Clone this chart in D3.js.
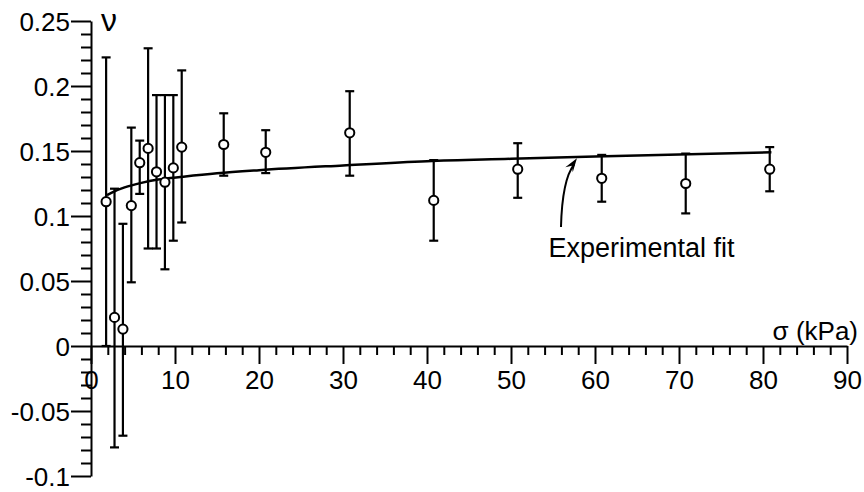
<!DOCTYPE html>
<html>
<head>
<meta charset="utf-8">
<script src="https://cdn.jsdelivr.net/npm/d3@7"></script>
<style>
  html, body { margin: 0; padding: 0; background: #fff; }
  svg { display: block; }
  text { font-family: "Liberation Sans", Arial, sans-serif; fill: #000; }
</style>
</head>
<body>
<svg id="chart" width="864" height="492"></svg>
<script>
// ---- data ----
const sigma = [1.8, 2.8, 3.8, 4.8, 5.8, 6.8, 7.8, 8.8, 9.8, 10.8, 15.8, 20.8, 30.8, 40.8, 50.8, 60.8, 70.8, 80.8];
const nu    = [0.111, 0.022, 0.013, 0.108, 0.141, 0.152, 0.134, 0.126, 0.137, 0.153, 0.155, 0.149, 0.164, 0.112, 0.136, 0.129, 0.125, 0.136];
const nuHigh = [0.222, 0.121, 0.094, 0.168, 0.158, 0.229, 0.193, 0.193, 0.193, 0.212, 0.179, 0.166, 0.196, 0.143, 0.156, 0.147, 0.148, 0.153];
const nuLow  = [0.000, -0.078, -0.069, 0.049, 0.117, 0.075, 0.075, 0.059, 0.081, 0.095, 0.131, 0.133, 0.131, 0.081, 0.114, 0.111, 0.102, 0.119];

// experimental fit curve
const fitSigma = [1.9, 2.8, 4, 6, 8, 11, 15, 20, 30, 40, 50, 60, 70, 81];
const fitNu    = [0.116, 0.119, 0.122, 0.1255, 0.128, 0.1302, 0.1328, 0.1352, 0.1389, 0.1422, 0.1440, 0.1458, 0.1473, 0.1490];

const xMajorTicks = [0, 10, 20, 30, 40, 50, 60, 70, 80, 90];
const xTickLabels = ["0", "10", "20", "30", "40", "50", "60", "70", "80", "90"];
const yMajorTicks = [-0.1, -0.05, 0, 0.05, 0.1, 0.15, 0.2, 0.25];
const yTickLabels = ["-0.1", "-0.05", "0", "0.05", "0.1", "0.15", "0.2", "0.25"];

// ---- layout ----
const svg = d3.select("#chart");
const x = d3.scaleLinear().domain([0, 90]).range([91, 847]);
const y = d3.scaleLinear().domain([-0.1, 0.25]).range([476, 21]);

const xMinor = d3.range(0, 91, 2).filter(v => v % 10 !== 0);
const yMinor = d3.range(-10, 26, 1).map(v => v / 100).filter(v => Math.abs(Math.round(v * 100)) % 5 !== 0);

const FS = 26;
const SANS = '"Liberation Sans", Arial, sans-serif';

// y axis
const gy = svg.append("g").attr("transform", `translate(${x(0)},0)`);
gy.call(d3.axisLeft(y).tickValues(yMajorTicks).tickFormat((d, i) => yTickLabels[i])
  .tickSize(20).tickSizeOuter(0).tickPadding(1));
gy.append("g").call(d3.axisLeft(y).tickValues(yMinor).tickFormat("").tickSize(10).tickSizeOuter(0))
  .select(".domain").remove();
gy.selectAll("line, path").attr("stroke", "#000").attr("stroke-width", 2);
gy.selectAll("text").attr("font-size", FS).attr("font-family", SANS).attr("fill", "#000").attr("dy", "0.35em");

// x axis
const gx = svg.append("g").attr("transform", `translate(0,${y(0)})`);
gx.call(d3.axisBottom(x).tickValues(xMajorTicks).tickFormat((d, i) => xTickLabels[i])
  .tickSize(18).tickSizeOuter(0).tickPadding(7));
gx.append("g").call(d3.axisBottom(x).tickValues(xMinor).tickFormat("").tickSize(9).tickSizeOuter(0))
  .select(".domain").remove();
gx.selectAll("line, path").attr("stroke", "#000").attr("stroke-width", 2);
gx.selectAll("text").attr("font-size", FS).attr("font-family", SANS).attr("fill", "#000");

// axis titles
svg.append("text").attr("x", 101).attr("y", 31)
  .attr("font-family", '"Liberation Serif", "Times New Roman", serif').attr("font-size", 32)
  .text("ν");
svg.append("text").attr("x", 858).attr("y", 340).attr("text-anchor", "end")
  .attr("font-size", FS).text("σ (kPa)");

const data = sigma.map((s, i) => ({ s, v: nu[i], hi: nuHigh[i], lo: nuLow[i] }));

// error bars
const eb = svg.append("g").attr("stroke", "#000").attr("stroke-width", 2.2).attr("fill", "none");
const capW = 4.5;
data.forEach(d => {
  const cx = x(d.s);
  eb.append("line").attr("x1", cx).attr("x2", cx).attr("y1", y(d.hi)).attr("y2", y(d.lo));
  eb.append("line").attr("x1", cx - capW).attr("x2", cx + capW).attr("y1", y(d.hi)).attr("y2", y(d.hi));
  eb.append("line").attr("x1", cx - capW).attr("x2", cx + capW).attr("y1", y(d.lo)).attr("y2", y(d.lo));
});

// fit curve
const fit = fitSigma.map((s, i) => [s, fitNu[i]]);
svg.append("path").datum(fit)
  .attr("fill", "none").attr("stroke", "#000").attr("stroke-width", 2.5)
  .attr("d", d3.line().x(d => x(d[0])).y(d => y(d[1])).curve(d3.curveMonotoneX));

// points
svg.append("g").selectAll("circle").data(data).join("circle")
  .attr("cx", d => x(d.s)).attr("cy", d => y(d.v)).attr("r", 4.6)
  .attr("fill", "#fff").attr("stroke", "#000").attr("stroke-width", 2);

// annotation
const ax0 = x(55.95), ay0 = y(0.0915);
const tipX = x(57.85), tipY = y(0.1445);
const cX = x(56.1), cY = y(0.128);
const endX = x(57.5), endY = y(0.1395);
svg.append("path")
  .attr("d", `M${ax0},${ay0} Q${cX},${cY} ${endX},${endY}`)
  .attr("fill", "none").attr("stroke", "#000").attr("stroke-width", 2);
// arrow head
const ang = Math.atan2(tipY - cY, tipX - cX);
const L = 14, W = 4.5;
const bx = tipX - L * Math.cos(ang), by = tipY - L * Math.sin(ang);
const px = -Math.sin(ang), py = Math.cos(ang);
svg.append("path")
  .attr("d", `M${tipX},${tipY} L${bx + W * px},${by + W * py} L${bx + 0.35 * L * Math.cos(ang)},${by + 0.35 * L * Math.sin(ang)} L${bx - W * px},${by - W * py} Z`)
  .attr("fill", "#000");

svg.append("text").attr("x", x(54.45)).attr("y", 257).attr("font-size", 27).text("Experimental fit");
</script>
</body>
</html>
